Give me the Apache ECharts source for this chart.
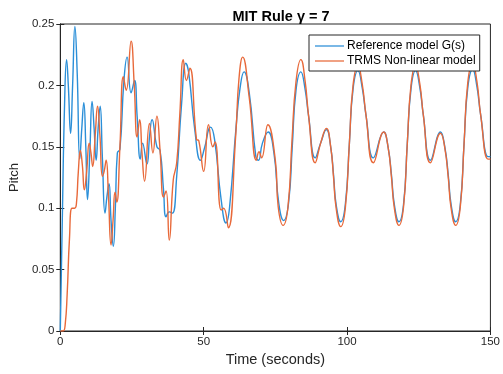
<!DOCTYPE html>
<html>
<head>
<meta charset="utf-8">
<script src="https://cdn.jsdelivr.net/npm/echarts@6/dist/echarts.min.js"></script>
<style>html,body{margin:0;padding:0;background:#fff}#c{width:503px;height:374px}</style>
</head>
<body>
<div id="c"></div>
<script>
var title = 'MIT Rule \u03b3 = 7';
var xName = 'Time (seconds)';
var yName = 'Pitch';
var seriesNames = ['Reference model G(s)', 'TRMS Non-linear model'];
var xTicks = [0, 50, 100, 150];
var yTicks = [0, 0.05, 0.1, 0.15, 0.2, 0.25];

var refModel = [
 [0,0],[0.7,0.09],[1.5,0.185],[2.2,0.221],[2.8,0.2],[3.6,0.161],[4.3,0.2],[5.1,0.248],[5.9,0.21],[6.8,0.14],
 [7.5,0.165],[8.2,0.186],[8.9,0.15],[9.5,0.107],[10.3,0.145],[11.1,0.187],[11.8,0.165],[12.5,0.139],[13.2,0.165],
 [13.9,0.183],[14.7,0.14],[15.6,0.096],[16.3,0.11],[17,0.12],[17.7,0.09],[18.5,0.069],[19.2,0.1],[19.9,0.145],
 [20.8,0.148],[22.2,0.204],[23.3,0.223],[24.7,0.194],[25.9,0.204],[26.8,0.175],[27.9,0.14],[28.7,0.153],
 [30.2,0.136],[31.2,0.16],[32,0.172],[33.7,0.15],[34.8,0.147],[36,0.115],[36.9,0.093],[38,0.097],[39.1,0.096],
 [40.6,0.126],[42.3,0.185],[43.8,0.218],[44.8,0.21],[46.9,0.164],[48.9,0.139],[50.3,0.149],[52.4,0.166],
 [53.8,0.156],[56.1,0.107],[57.8,0.088],[59,0.1],[61.3,0.166],[62.7,0.198],[64.1,0.211],[65.9,0.194],[68.2,0.142],
 [69.1,0.139],[70.5,0.153],[72.5,0.162],[74.5,0.145],[76.2,0.104],[77.9,0.09],[79.6,0.104],[80.9,0.15],
 [82.2,0.196],[83.9,0.211],[85.3,0.198],[86.6,0.175],[88.9,0.141],[90.8,0.153],[92.8,0.164],[94.3,0.15],
 [95.3,0.127],[96.2,0.103],[97.8,0.089],[99.4,0.103],[100.8,0.152],[102.1,0.197],[103.8,0.212],[105.3,0.198],
 [106.6,0.176],[109.2,0.141],[112.8,0.162],[114.3,0.15],[115.5,0.127],[116.5,0.103],[118.1,0.089],[119.7,0.103],
 [121,0.152],[122.3,0.197],[123.9,0.212],[125.4,0.198],[126.6,0.176],[129.1,0.139],[132.6,0.162],[134.1,0.15],
 [135.3,0.127],[136.3,0.103],[137.9,0.089],[139.5,0.103],[140.8,0.152],[142.1,0.198],[143.8,0.213],[145.3,0.199],
 [146.6,0.176],[149.2,0.142],[150,0.142]
];

var trmsModel = [
 [0,0],[1.0,0],[1.7,0.005],[2.4,0.03],[3.2,0.075],[4.1,0.1],[5.0,0.1],[5.6,0.103],[6.3,0.13],[7,0.147],
 [7.7,0.135],[8.4,0.115],[9.2,0.13],[10.1,0.153],[10.7,0.145],[11.3,0.134],[12.2,0.16],[13,0.183],[13.8,0.16],
 [14.7,0.126],[15.3,0.13],[16,0.139],[16.8,0.11],[17.7,0.07],[18.4,0.09],[19.1,0.113],[19.7,0.105],[20.8,0.15],
 [22,0.207],[23,0.196],[24.7,0.236],[25.8,0.2],[26.8,0.158],[27.7,0.172],[28.5,0.145],[29.4,0.122],[31.1,0.169],
 [32.3,0.145],[33.7,0.175],[34.8,0.147],[36,0.109],[36.9,0.114],[38,0.074],[39.4,0.123],[40.6,0.137],
 [41.7,0.177],[42.9,0.221],[44,0.204],[45.2,0.214],[47.5,0.156],[48.3,0.155],[50,0.13],[51.7,0.168],
 [53.2,0.15],[54,0.154],[56.1,0.0985],[57,0.1],[58.6,0.084],[61.2,0.16],[62.3,0.205],[63.6,0.223],[65.9,0.19],
 [68.4,0.139],[69.3,0.146],[70.2,0.141],[72.4,0.168],[75,0.139],[76,0.101],[77.7,0.086],[79.4,0.101],
 [80.8,0.155],[82.2,0.203],[83.9,0.221],[85.4,0.203],[86.6,0.175],[88.9,0.137],[90.8,0.153],[92.8,0.165],
 [94.3,0.15],[95.3,0.125],[96.2,0.1],[97.8,0.085],[99.4,0.1],[100.8,0.152],[102.1,0.2],[103.8,0.216],
 [105.3,0.201],[106.6,0.176],[109.2,0.137],[112.8,0.162],[114.3,0.15],[115.5,0.125],[116.5,0.1],[118.1,0.086],
 [119.7,0.101],[121,0.152],[122.3,0.2],[123.9,0.216],[125.4,0.201],[126.6,0.176],[129.1,0.137],[132.6,0.161],
 [134.1,0.149],[135.3,0.125],[136.3,0.1],[137.9,0.086],[139.5,0.101],[140.8,0.152],[142.1,0.202],[143.8,0.218],
 [145.3,0.203],[146.6,0.176],[149.2,0.14],[150,0.14]
];

var chart = echarts.init(document.getElementById('c'), null, {renderer: 'canvas'});
var font = 'Liberation Sans, Arial, sans-serif';
var axisColor = '#262626';
var tickCommon = {show: true, inside: true, length: 4, lineStyle: {color: axisColor}};
chart.setOption({
  animation: false,
  backgroundColor: '#fff',
  title: {
    text: title, left: 276, top: 4, textAlign: 'center',
    textStyle: {fontFamily: font, fontSize: 14.5, fontWeight: 'bold', color: '#000'}
  },
  legend: {
    orient: 'vertical', left: 309, top: 35,
    padding: [5, 4, 4, 6], itemGap: 3, itemWidth: 29, itemHeight: 11,
    icon: 'path://M0,5 L30,5 L30,6.3 L0,6.3 Z',
    borderColor: '#262626', borderWidth: 1, backgroundColor: '#fff',
    textStyle: {fontFamily: font, fontSize: 12, color: '#000', padding: [0, 0, 0, -2]},
    data: seriesNames
  },
  grid: {left: 59, right: 10, top: 24, bottom: 43, show: true, borderColor: axisColor, borderWidth: 1},
  xAxis: [{
    type: 'value', min: xTicks[0], max: xTicks[xTicks.length - 1], interval: 50,
    name: xName, nameLocation: 'middle', nameGap: 21,
    nameTextStyle: {fontFamily: font, fontSize: 14.5, color: axisColor},
    axisLine: {show: true, lineStyle: {color: axisColor}},
    axisTick: tickCommon,
    axisLabel: {fontFamily: font, fontSize: 11.5, color: axisColor, margin: 5},
    splitLine: {show: false}
  }, {
    type: 'value', position: 'top', min: xTicks[0], max: xTicks[xTicks.length - 1], interval: 50,
    axisLine: {show: true, lineStyle: {color: axisColor}},
    axisTick: tickCommon, axisLabel: {show: false}, splitLine: {show: false}
  }],
  yAxis: [{
    type: 'value', min: yTicks[0], max: yTicks[yTicks.length - 1], interval: 0.05,
    name: yName, nameLocation: 'middle', nameGap: 39,
    nameTextStyle: {fontFamily: font, fontSize: 13, color: axisColor},
    axisLine: {show: true, lineStyle: {color: axisColor}},
    axisTick: tickCommon,
    axisLabel: {fontFamily: font, fontSize: 11.5, color: axisColor, margin: 6,
      formatter: function (v) { return String(Math.round(v * 100) / 100); }},
    splitLine: {show: false}
  }, {
    type: 'value', position: 'right', min: yTicks[0], max: yTicks[yTicks.length - 1], interval: 0.05,
    axisLine: {show: true, lineStyle: {color: axisColor}},
    axisTick: tickCommon, axisLabel: {show: false}, splitLine: {show: false}
  }],
  series: [
    {name: seriesNames[0], type: 'line', data: refModel, symbol: 'none', smooth: 0.5,
     lineStyle: {color: '#2b8fd8', width: 1.4}, itemStyle: {color: '#2b8fd8'}},
    {name: seriesNames[1], type: 'line', data: trmsModel, symbol: 'none', smooth: 0.5,
     lineStyle: {color: '#e8693a', width: 1.4}, itemStyle: {color: '#e8693a'}}
  ]
});
</script>
</body>
</html>
